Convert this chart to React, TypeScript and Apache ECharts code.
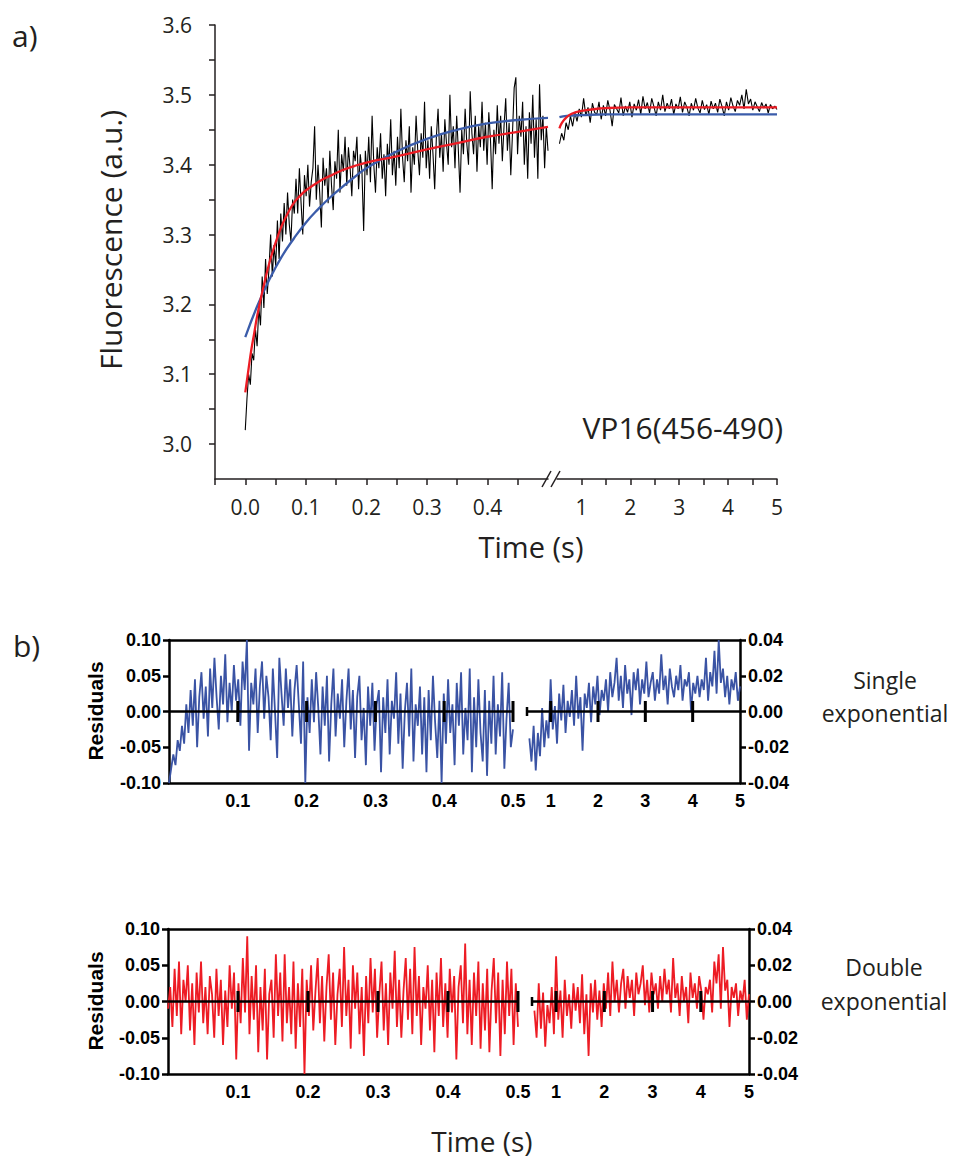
import React, { useEffect, useRef } from "react";
import * as echarts from "echarts";

// ---------- Panel a: fluorescence trace ----------
const fluorSeg1Start = 0;
const fluorSeg1End = 0.5;
const fluorSeg1 = [
  3.020, 3.065, 3.100, 3.085, 3.130, 3.120, 3.165, 3.140, 3.195, 3.170,
  3.240, 3.195, 3.265, 3.215, 3.250, 3.300, 3.240, 3.285, 3.255, 3.320,
  3.265, 3.330, 3.290, 3.345, 3.300, 3.360, 3.315, 3.290, 3.350, 3.330,
  3.380, 3.330, 3.395, 3.345, 3.300, 3.385, 3.355, 3.400, 3.340, 3.375,
  3.395, 3.455, 3.350, 3.400, 3.360, 3.310, 3.410, 3.370, 3.395, 3.345,
  3.420, 3.370, 3.335, 3.405, 3.380, 3.450, 3.360, 3.415, 3.390, 3.440,
  3.370, 3.425, 3.395, 3.355, 3.420, 3.405, 3.440, 3.365, 3.415, 3.390,
  3.305, 3.420, 3.385, 3.440, 3.375, 3.470, 3.400, 3.360, 3.425, 3.395,
  3.445, 3.380, 3.415, 3.355, 3.430, 3.400, 3.465, 3.385, 3.420, 3.370,
  3.440, 3.395, 3.480, 3.410, 3.375, 3.435, 3.405, 3.455, 3.360, 3.425,
  3.400, 3.470, 3.420, 3.385, 3.445, 3.410, 3.490, 3.395, 3.435, 3.380,
  3.455, 3.415, 3.365, 3.440, 3.480, 3.410, 3.445, 3.390, 3.465, 3.430,
  3.400, 3.500, 3.425, 3.455, 3.395, 3.470, 3.420, 3.360, 3.450, 3.415,
  3.480, 3.430, 3.400, 3.505, 3.445, 3.415, 3.470, 3.390, 3.455, 3.425,
  3.490, 3.420, 3.460, 3.400, 3.475, 3.435, 3.365, 3.450, 3.415, 3.485,
  3.430, 3.470, 3.405, 3.455, 3.495, 3.420, 3.460, 3.385, 3.445, 3.510,
  3.525, 3.415, 3.470, 3.440, 3.490, 3.400, 3.455, 3.380, 3.475, 3.430,
  3.500, 3.410, 3.465, 3.380, 3.515, 3.435, 3.470, 3.395, 3.455, 3.420,
];
const fluorSeg2Start = 0.55;
const fluorSeg2End = 5;
const fluorSeg2 = [
  3.430, 3.445, 3.435, 3.460, 3.450, 3.470, 3.455, 3.475, 3.462, 3.480,
  3.468, 3.495, 3.470, 3.482, 3.460, 3.488, 3.475, 3.472, 3.490, 3.465,
  3.485, 3.470, 3.492, 3.478, 3.455, 3.486, 3.480, 3.474, 3.496, 3.470,
  3.484, 3.475, 3.490, 3.468, 3.487, 3.478, 3.493, 3.472, 3.498, 3.480,
  3.489, 3.474, 3.495, 3.483, 3.470, 3.490, 3.478, 3.500, 3.476, 3.488,
  3.480, 3.494, 3.472, 3.487, 3.480, 3.497, 3.475, 3.490, 3.482, 3.470,
  3.488, 3.478, 3.495, 3.481, 3.474, 3.492, 3.479, 3.486, 3.472, 3.491,
  3.480, 3.488, 3.475, 3.494, 3.483, 3.470, 3.490, 3.478, 3.496, 3.484,
  3.476, 3.492, 3.485, 3.500, 3.480, 3.508, 3.487, 3.494, 3.478, 3.490,
  3.483, 3.476, 3.489, 3.481, 3.487, 3.474, 3.486, 3.480, 3.484, 3.479,
];

// Fits (double = red, single = blue)
const doubleFit1T = [0, 0.005, 0.01, 0.015, 0.02, 0.03, 0.04, 0.05, 0.06, 0.07, 0.08, 0.09, 0.1, 0.12, 0.14, 0.16, 0.18, 0.2, 0.25, 0.3, 0.35, 0.4, 0.45, 0.5];
const doubleFit1 = [3.074, 3.105, 3.135, 3.16, 3.185, 3.225, 3.26, 3.288, 3.312, 3.33, 3.345, 3.355, 3.363, 3.375, 3.384, 3.392, 3.398, 3.403, 3.412, 3.422, 3.431, 3.44, 3.447, 3.454];
const singleFit1T = [0, 0.02, 0.04, 0.06, 0.08, 0.1, 0.12, 0.14, 0.16, 0.18, 0.2, 0.25, 0.3, 0.35, 0.4, 0.45, 0.5];
const singleFit1 = [3.153, 3.198, 3.236, 3.268, 3.294, 3.317, 3.336, 3.353, 3.368, 3.382, 3.395, 3.419, 3.437, 3.45, 3.459, 3.464, 3.467];
const doubleFit2T = [0.55, 0.6, 0.7, 0.8, 1.0, 1.2, 1.5, 2, 3, 4, 5];
const doubleFit2 = [3.452, 3.46, 3.468, 3.473, 3.477, 3.479, 3.481, 3.482, 3.482, 3.482, 3.482];
const singleFit2T = [0.55, 0.7, 1, 1.5, 2, 3, 4, 5];
const singleFit2 = [3.468, 3.47, 3.471, 3.472, 3.472, 3.472, 3.472, 3.472];

const fluorYLabels = [3.0, 3.1, 3.2, 3.3, 3.4, 3.5, 3.6];
const fluorYTicks = [3.0, 3.05, 3.1, 3.15, 3.2, 3.25, 3.3, 3.35, 3.4, 3.45, 3.5, 3.55, 3.6];
const fluorX1Labels = [0, 0.1, 0.2, 0.3, 0.4];
const fluorX1Ticks = [-0.05, 0, 0.05, 0.1, 0.15, 0.2, 0.25, 0.3, 0.35, 0.4, 0.45];
const fluorX2Labels = [1, 2, 3, 4, 5];
const fluorX2Ticks = [1, 1.5, 2, 2.5, 3, 3.5, 4, 4.5, 5];

// ---------- Panel b: residuals ----------
const residSeg1Start = 0;
const residSeg1End = 0.5;
const residSeg2Start = 0.55;
const residSeg2End = 5;
const singleResid1 = [
  -0.100, -0.080, -0.060, -0.075, -0.040, -0.055, -0.020, -0.045, 0.010, -0.030,
  0.030, -0.020, 0.045, -0.050, 0.020, 0.055, -0.010, 0.035, -0.035, 0.060,
  0.005, 0.075, 0.020, -0.025, 0.050, 0.010, 0.080, -0.015, 0.040, 0.000,
  0.065, 0.015, 0.045, -0.020, 0.070, 0.030, 0.100, -0.055, 0.040, 0.010,
  0.060, -0.030, 0.035, 0.070, -0.010, 0.050, 0.020, -0.040, 0.060, 0.000,
  -0.065, 0.075, 0.025, -0.020, 0.060, 0.005, 0.045, -0.035, 0.030, 0.065,
  0.010, -0.045, 0.070, -0.100, 0.020, -0.030, 0.045, -0.015, 0.055, 0.005,
  -0.060, 0.035, -0.020, 0.050, -0.070, 0.010, 0.060, -0.035, 0.025, -0.010,
  0.045, -0.050, 0.015, 0.060, -0.025, 0.030, -0.065, 0.020, 0.050, -0.040,
  0.005, -0.075, 0.035, -0.020, 0.040, -0.055, 0.010, 0.030, -0.085, 0.020,
  -0.030, 0.045, -0.060, 0.015, -0.010, 0.055, -0.045, 0.025, -0.080, 0.000,
  0.040, -0.035, 0.060, -0.070, 0.010, -0.020, 0.035, -0.060, 0.020, -0.085,
  0.030, -0.040, 0.050, -0.015, -0.065, 0.015, -0.100, 0.025, -0.045, 0.045,
  -0.030, 0.010, -0.075, 0.040, -0.020, 0.055, -0.060, 0.005, -0.040, 0.060,
  -0.085, 0.020, -0.050, 0.045, -0.030, -0.070, 0.030, -0.090, 0.015, -0.045,
  0.050, -0.060, 0.010, -0.035, 0.055, -0.080, -0.010, 0.040, -0.050, -0.025,
];
const singleResid2 = [
  -0.015, -0.028, -0.008, -0.033, -0.012, -0.025, 0.002, -0.020, -0.005, -0.015,
  0.018, -0.010, 0.003, -0.018, 0.010, -0.005, 0.015, -0.012, 0.006, -0.003,
  0.012, -0.008, 0.020, -0.004, 0.008, -0.022, 0.010, 0.002, 0.016, -0.006,
  0.014, 0.004, 0.020, -0.002, 0.012, 0.006, 0.018, 0.000, 0.022, 0.008,
  0.016, 0.030, 0.006, 0.020, 0.002, 0.026, 0.010, 0.018, -0.002, 0.022,
  0.012, 0.024, 0.004, 0.018, 0.010, 0.028, 0.008, 0.016, 0.022, 0.006,
  0.018, 0.010, 0.032, 0.012, 0.020, 0.004, 0.024, 0.014, 0.008, 0.020,
  0.012, 0.026, 0.006, 0.018, 0.014, 0.022, 0.000, 0.016, 0.010, 0.020,
  0.008, 0.018, 0.012, 0.030, 0.006, 0.022, 0.014, 0.034, 0.010, 0.040,
  0.016, 0.024, 0.008, 0.020, 0.004, 0.018, 0.012, 0.022, 0.006, 0.014,
];
const doubleResid1 = [
  -0.010, 0.020, -0.035, 0.045, -0.020, 0.055, -0.045, 0.030, 0.000, 0.050,
  -0.040, 0.025, -0.060, 0.040, -0.015, 0.055, -0.030, 0.020, -0.045, 0.035,
  0.010, -0.050, 0.045, -0.020, 0.030, -0.060, 0.015, -0.035, 0.050, -0.010,
  0.040, -0.080, 0.025, -0.030, 0.060, -0.015, 0.090, -0.045, 0.035, -0.025,
  0.050, -0.070, 0.020, -0.040, 0.045, -0.080, 0.010, 0.030, -0.050, 0.065,
  -0.020, 0.040, -0.055, 0.065, -0.030, 0.020, -0.045, 0.055, -0.065, 0.025,
  -0.035, 0.045, -0.100, 0.030, -0.020, 0.050, -0.040, 0.015, 0.060, -0.030,
  0.035, -0.055, 0.020, 0.065, -0.025, 0.040, -0.060, 0.010, 0.045, -0.035,
  0.075, -0.020, 0.030, -0.065, 0.050, -0.010, 0.040, -0.045, 0.020, -0.075,
  0.035, -0.030, 0.060, -0.015, 0.045, -0.050, 0.010, 0.055, -0.040, 0.025,
  -0.060, 0.040, -0.010, 0.070, -0.035, 0.030, -0.050, 0.015, 0.060, -0.025,
  0.045, -0.045, 0.075, -0.020, 0.035, -0.060, 0.020, -0.010, 0.050, -0.040,
  0.030, -0.070, 0.040, -0.020, 0.060, -0.035, 0.025, -0.050, 0.045, -0.015,
  0.035, -0.080, 0.020, 0.050, -0.030, 0.080, -0.045, 0.030, -0.060, 0.040,
  -0.020, 0.055, -0.065, 0.025, -0.040, 0.045, -0.070, 0.015, 0.060, -0.030,
  0.040, -0.075, 0.030, -0.045, 0.055, -0.020, 0.045, -0.060, 0.025, -0.035,
];
const doubleResid2 = [
  -0.005, -0.020, 0.010, -0.015, 0.005, -0.025, -0.002, -0.012, 0.008, -0.018,
  0.025, -0.010, 0.006, -0.020, 0.012, -0.008, 0.004, -0.015, 0.010, -0.005,
  0.008, -0.012, 0.015, -0.018, 0.004, -0.030, 0.010, -0.006, 0.012, -0.010,
  0.006, -0.014, 0.010, -0.004, 0.016, -0.008, 0.022, 0.000, 0.012, -0.006,
  0.010, 0.018, -0.004, 0.014, 0.002, 0.012, -0.008, 0.016, 0.004, 0.010,
  0.020, -0.002, 0.012, -0.006, 0.016, 0.004, 0.010, -0.004, 0.014, 0.000,
  0.018, 0.004, 0.012, -0.006, 0.024, 0.002, 0.010, -0.008, 0.014, 0.000,
  0.008, -0.012, 0.016, 0.002, 0.010, -0.004, 0.014, 0.006, -0.010, 0.008,
  0.004, 0.012, -0.006, 0.022, 0.010, 0.026, -0.004, 0.030, 0.006, 0.012,
  -0.014, 0.008, 0.002, 0.010, -0.008, 0.006, 0.000, 0.012, -0.010, 0.004,
];
const residLeftTicks = [-0.1, -0.05, 0, 0.05, 0.1];
const residRightTicks = [-0.04, -0.02, 0, 0.02, 0.04];
const residX1Labels = [0.1, 0.2, 0.3, 0.4, 0.5];
const residX2Labels = [1, 2, 3, 4, 5];
const zeroMarks1 = [0.1, 0.2, 0.3, 0.4, 0.5];
const zeroMarks2 = [1, 2, 3, 4];
const zeroCap2 = [0.5];

// ---------- helpers ----------
const spread = (vals: number[], t0: number, t1: number) =>
  vals.map((v, i) => [t0 + (i * (t1 - t0)) / (vals.length - 1), v]);
const zip = (ts: number[], vs: number[]) => ts.map((t, i) => [t, vs[i]]);

const INK = "#231f20";
const BLUE = "#3a53a4";
const RED = "#ed1c24";
const SANS = "'Open Sans', 'Noto Sans', sans-serif";
const ARIAL = "'Liberation Sans', Arial, sans-serif";

export default function App() {
  const ref = useRef<HTMLDivElement>(null);
  useEffect(() => {
    if (!ref.current) return;
    const chart = echarts.init(ref.current, undefined, { renderer: "svg" });

    const g = (left: number, top: number, width: number, height: number) => ({
      left, top, width, height, containLabel: false, outerBoundsMode: "none", show: false,
    });

    const grids = [
      g(215, 25, 333, 454), // 0 panel a seg1
      g(557, 25, 220, 454), // 1 panel a seg2
      g(169, 640, 571, 143), // 2 top frame
      g(169, 640, 344, 143), // 3 top seg1
      g(527, 640, 213, 143), // 4 top seg2
      g(168, 929, 581, 145), // 5 bottom frame
      g(168, 929, 350, 145), // 6 bottom seg1
      g(532, 929, 217, 145), // 7 bottom seg2
    ];

    const fluorAxisX = (gridIndex: number, min: number, max: number, ticks: number[], labels: number[], fmt: (v: number) => string) => ({
      type: "value", gridIndex, min, max, position: "bottom",
      axisLine: { show: true, onZero: false, lineStyle: { color: INK, width: 1.5 } },
      axisTick: { show: true, customValues: ticks, length: 6, lineStyle: { color: INK, width: 1.5 } },
      axisLabel: { show: true, customValues: labels, formatter: fmt, margin: 17, color: INK, fontFamily: SANS, fontSize: 21 },
      splitLine: { show: false },
    });
    const frameX = (gridIndex: number, position: string) => ({
      type: "value", gridIndex, min: 0, max: 1, position,
      axisLine: { show: true, onZero: false, lineStyle: { color: "#000", width: 2.5 } },
      axisTick: { show: false }, axisLabel: { show: false }, splitLine: { show: false },
    });
    const residLabelX = (gridIndex: number, min: number, max: number, labels: number[]) => ({
      type: "value", gridIndex, min, max, position: "bottom",
      axisLine: { show: false, onZero: false }, axisTick: { show: false }, splitLine: { show: false },
      axisLabel: { show: true, customValues: labels, formatter: (v: number) => String(v), margin: 9, color: "#000", fontFamily: ARIAL, fontWeight: "bold", fontSize: 18 },
    });
    const frameY = (gridIndex: number, position: string, min: number, max: number, ticks: number[]) => ({
      type: "value", gridIndex, min, max, position,
      axisLine: { show: true, onZero: false, lineStyle: { color: "#000", width: 2.5 } },
      axisTick: { show: true, customValues: ticks, length: 6, lineStyle: { color: "#000", width: 2.5 } },
      axisLabel: { show: true, customValues: ticks, formatter: (v: number) => v.toFixed(2), margin: 8, color: "#000", fontFamily: ARIAL, fontWeight: "bold", fontSize: 18 },
      splitLine: { show: false },
    });
    const hiddenY = (gridIndex: number, min: number, max: number) => ({
      type: "value", gridIndex, min, max, show: false,
    });

    const xAxis = [
      fluorAxisX(0, -0.05, 0.5, fluorX1Ticks, fluorX1Labels, (v) => v.toFixed(1)), // 0
      fluorAxisX(1, 0.5, 5, fluorX2Ticks, fluorX2Labels, (v) => String(Math.round(v))), // 1
      frameX(2, "bottom"), // 2
      frameX(2, "top"), // 3
      residLabelX(3, residSeg1Start, residSeg1End, residX1Labels), // 4
      residLabelX(4, 0.5, residSeg2End, residX2Labels), // 5
      frameX(5, "bottom"), // 6
      frameX(5, "top"), // 7
      residLabelX(6, residSeg1Start, residSeg1End, residX1Labels), // 8
      residLabelX(7, 0.5, residSeg2End, residX2Labels), // 9
    ];
    const yAxis = [
      {
        type: "value", gridIndex: 0, min: 2.95, max: 3.6, position: "left",
        axisLine: { show: true, onZero: false, lineStyle: { color: INK, width: 1.5 } },
        axisTick: { show: true, customValues: fluorYTicks, length: 6, lineStyle: { color: INK, width: 1.5 } },
        axisLabel: { show: true, customValues: fluorYLabels, formatter: (v: number) => v.toFixed(1), margin: 23, color: INK, fontFamily: SANS, fontSize: 21 },
        splitLine: { show: false },
      }, // 0
      hiddenY(1, 2.95, 3.6), // 1
      frameY(2, "left", -0.1, 0.1, residLeftTicks), // 2
      frameY(2, "right", -0.04, 0.04, residRightTicks), // 3
      hiddenY(3, -0.1, 0.1), // 4
      hiddenY(4, -0.04, 0.04), // 5
      frameY(5, "left", -0.1, 0.1, residLeftTicks), // 6
      frameY(5, "right", -0.04, 0.04, residRightTicks), // 7
      hiddenY(6, -0.1, 0.1), // 8
      hiddenY(7, -0.04, 0.04), // 9
    ];

    const trace = (data: number[][], xi: number, yi: number, color: string, width: number, smooth = false, z = 2) => ({
      type: "line", xAxisIndex: xi, yAxisIndex: yi, data, showSymbol: false, smooth, z,
      lineStyle: { color, width }, silent: true, clip: true,
    });
    const zeroMarks = (marks: number[], xi: number, yi: number, size: number[], withLine: boolean) => ({
      type: "scatter", xAxisIndex: xi, yAxisIndex: yi, z: 6, silent: true,
      data: marks.map((t) => [t, 0]), symbol: "rect", symbolSize: size,
      itemStyle: { color: "#000", opacity: 1 },
      markLine: withLine
        ? { silent: true, symbol: ["none", "none"], label: { show: false }, data: [{ yAxis: 0 }], lineStyle: { color: "#000", width: 2.5, type: "solid", opacity: 1 } }
        : undefined,
    });

    const series = [
      trace(spread(fluorSeg1, fluorSeg1Start, fluorSeg1End), 0, 0, "#000", 1.1),
      trace(spread(fluorSeg2, fluorSeg2Start, fluorSeg2End), 1, 1, "#000", 1.1),
      trace(zip(singleFit1T, singleFit1), 0, 0, "#3b5caa", 2.3, true, 3),
      trace(zip(doubleFit1T, doubleFit1), 0, 0, RED, 2.3, true, 4),
      trace(zip(singleFit2T, singleFit2), 1, 1, "#3b5caa", 2.3, true, 3),
      trace(zip(doubleFit2T, doubleFit2), 1, 1, RED, 2.3, true, 4),

      trace(spread(singleResid1, residSeg1Start, residSeg1End), 4, 4, BLUE, 1.8),
      trace(spread(singleResid2, residSeg2Start, residSeg2End), 5, 5, BLUE, 1.8),
      zeroMarks(zeroMarks1, 4, 4, [3, 21], true),
      zeroMarks(zeroMarks2, 5, 5, [3, 21], true),
      zeroMarks(zeroCap2, 5, 5, [2.5, 9], false),

      trace(spread(doubleResid1, residSeg1Start, residSeg1End), 8, 8, RED, 1.8),
      trace(spread(doubleResid2, residSeg2Start, residSeg2End), 9, 9, RED, 1.8),
      zeroMarks(zeroMarks1, 8, 8, [3, 21], true),
      zeroMarks(zeroMarks2, 9, 9, [3, 21], true),
      zeroMarks(zeroCap2, 9, 9, [2.5, 9], false),
    ];

    const txt = (text: string, x: number, y: number, size: number, opts: any = {}) => ({
      type: "text", x, y, rotation: opts.rotation || 0,
      style: {
        text, fill: opts.fill || INK, fontSize: size, fontFamily: opts.font || SANS,
        fontWeight: opts.weight || "normal", align: opts.align || "center",
        verticalAlign: "middle", lineHeight: opts.lineHeight,
      },
    });

    const graphic = [
      txt("a)", 12, 35, 30, { align: "left" }),
      txt("Fluorescence (a.u.)", 110, 240, 30, { rotation: Math.PI / 2 }),
      txt("VP16(456-490)", 783, 427, 30, { align: "right" }),
      txt("Time (s)", 531, 546, 29),
      { type: "line", shape: { x1: 542, y1: 487, x2: 551, y2: 471 }, style: { stroke: INK, lineWidth: 1.5 } },
      { type: "line", shape: { x1: 551, y1: 487, x2: 560, y2: 471 }, style: { stroke: INK, lineWidth: 1.5 } },
      txt("b)", 13, 645, 30, { align: "left" }),
      txt("Residuals", 95, 711, 21, { rotation: Math.PI / 2, font: ARIAL, weight: "bold", fill: "#000" }),
      txt("Residuals", 95, 1001, 21, { rotation: Math.PI / 2, font: ARIAL, weight: "bold", fill: "#000" }),
      txt("Single\nexponential", 885, 696, 23, { lineHeight: 33 }),
      txt("Double\nexponential", 884, 984, 23, { lineHeight: 34 }),
      txt("Time (s)", 482, 1141, 28),
    ];

    chart.setOption({
      animation: false,
      backgroundColor: "#ffffff",
      grid: grids,
      xAxis,
      yAxis,
      series,
      graphic,
    } as any);
    return () => chart.dispose();
  }, []);

  return (
    <div
      ref={ref}
      style={{ position: "absolute", left: 0, top: 0, width: 955, height: 1160 }}
    />
  );
}
